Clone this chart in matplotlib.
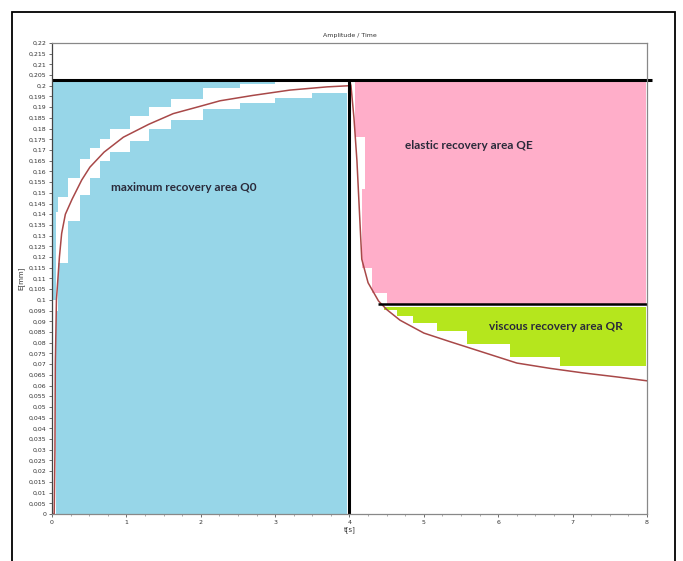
import matplotlib
matplotlib.use("Agg")
import matplotlib.pyplot as plt
from matplotlib.patches import Rectangle
from matplotlib.ticker import MultipleLocator, FuncFormatter

# loading curve (creep)
t_load = [0.0, 0.03, 0.04, 0.045, 0.06, 0.1, 0.13, 0.18, 0.27, 0.4, 0.51, 0.7, 0.96,
          1.3, 1.63, 2.0, 2.26, 2.7, 3.2, 3.7, 3.98]
e_load = [0.0, 0.0, 0.03, 0.07, 0.1, 0.12, 0.131, 0.14, 0.147, 0.156, 0.162, 0.169, 0.176,
          0.182, 0.187, 0.1905, 0.193, 0.1955, 0.198, 0.1995, 0.2]

# recovery curve
t_rec = [4.0, 4.02, 4.06, 4.1, 4.165, 4.25, 4.39, 4.5, 4.68, 5.0, 5.35, 5.8, 6.25, 6.7,
         7.14, 7.6, 8.0]
e_rec = [0.2027, 0.2, 0.185, 0.165, 0.119, 0.108, 0.0995, 0.0955, 0.0905, 0.0845, 0.0805,
         0.0755, 0.0705, 0.068, 0.0659, 0.064, 0.0622]

# white staircase halo around the loading curve
halo_t = [0.0, 0.06, 0.08, 0.22, 0.38, 0.51, 0.65, 0.78, 1.05, 1.3, 1.6, 2.03, 2.53, 3.0, 3.5, 3.96]
halo_lo = [0.0, 0.095, 0.117, 0.137, 0.149, 0.157, 0.165, 0.169, 0.174, 0.18, 0.184, 0.189,
           0.192, 0.1945, 0.1965, 0.1965]
halo_hi = [0.1, 0.141, 0.148, 0.157, 0.166, 0.171, 0.175, 0.18, 0.186, 0.19, 0.194, 0.199,
           0.201, 0.2025, 0.2025, 0.2025]

# pink area left border (y levels -> x)
pink_y = [0.098, 0.103, 0.115, 0.152, 0.176, 0.2025]
pink_x = [4.50, 4.30, 4.17, 4.21, 4.07, 4.07]

# green area lower border (steps)
green_t = [4.47, 4.64, 4.85, 5.17, 5.58, 6.16, 6.83, 7.98]
green_lo = [0.0955, 0.0925, 0.089, 0.0855, 0.0795, 0.0735, 0.069, 0.069]

top_level = 0.2025
mid_level = 0.098
t_end = 7.98

blue = "#97d6e8"
pink = "#ffaec9"
green = "#b5e61d"
curve_col = "#a84848"

fig = plt.figure(figsize=(6.83, 5.61), dpi=100)
ax = fig.add_axes([0.0761, 0.0838, 0.8712, 0.8396])

# maximum recovery area
ax.fill_between([0.0, 3.96], 0, top_level, color=blue, lw=0)
ax.fill_between(halo_t, halo_lo, halo_hi, step="post", color="white", lw=0)

# elastic recovery area
ax.fill_betweenx(pink_y, pink_x, t_end, step="post", color=pink, lw=0)

# viscous recovery area
ax.fill_between(green_t, green_lo, mid_level - 0.0015, step="post", color=green, lw=0)

ax.plot(t_load, e_load, color=curve_col, lw=1.1)
ax.plot(t_rec, e_rec, color=curve_col, lw=1.1)

# black separating lines
ax.plot([0, 8.07], [top_level, top_level], color="black", lw=2.2, clip_on=False, solid_capstyle="butt")
ax.plot([4.0, 4.0], [0, top_level], color="black", lw=2.2, solid_capstyle="butt")
ax.plot([4.39, 8.0], [mid_level, mid_level], color="black", lw=1.8, solid_capstyle="butt")

txt = dict(fontsize=8.5, fontweight="bold", color="#2a2a3a", family="Lato", va="center")
ax.text(0.8, 0.1527, "maximum recovery area Q0", **txt)
ax.text(4.75, 0.1719, "elastic recovery area QE", **txt)
ax.text(5.88, 0.0878, "viscous recovery area QR", **txt)

ax.set_xlim(0, 8)
ax.set_ylim(0, 0.22)
ax.xaxis.set_major_locator(MultipleLocator(1))
ax.xaxis.set_minor_locator(MultipleLocator(0.25))
ax.yaxis.set_major_locator(MultipleLocator(0.005))


def comma_fmt(v, pos):
    s = ("%.3f" % v).rstrip("0").rstrip(".")
    return s.replace(".", ",")


ax.yaxis.set_major_formatter(FuncFormatter(comma_fmt))
ax.tick_params(axis="both", labelsize=4.5, colors="#555555", length=2.5, width=0.6, pad=1.5,
               labelcolor="#333333")
ax.tick_params(axis="x", which="minor", length=1.5, width=0.5, colors="#888888")
for s in ax.spines.values():
    s.set_color("#888888")
    s.set_linewidth(0.9)
ax.spines["left"].set_color("#444444")

ax.set_title("Amplitude / Time", fontsize=4.5, color="#333333", pad=4)
ax.set_xlabel("t[s]", fontsize=5, color="#333333", labelpad=1)
ax.set_ylabel("E[mm]", fontsize=5, color="#333333", labelpad=3)

# outer frame
fig.patches.append(Rectangle((0.0176, -0.05), 0.9706, 1.0286, transform=fig.transFigure,
                             fill=False, edgecolor="black", lw=1.3))

fig.savefig("out.png", dpi=100)
